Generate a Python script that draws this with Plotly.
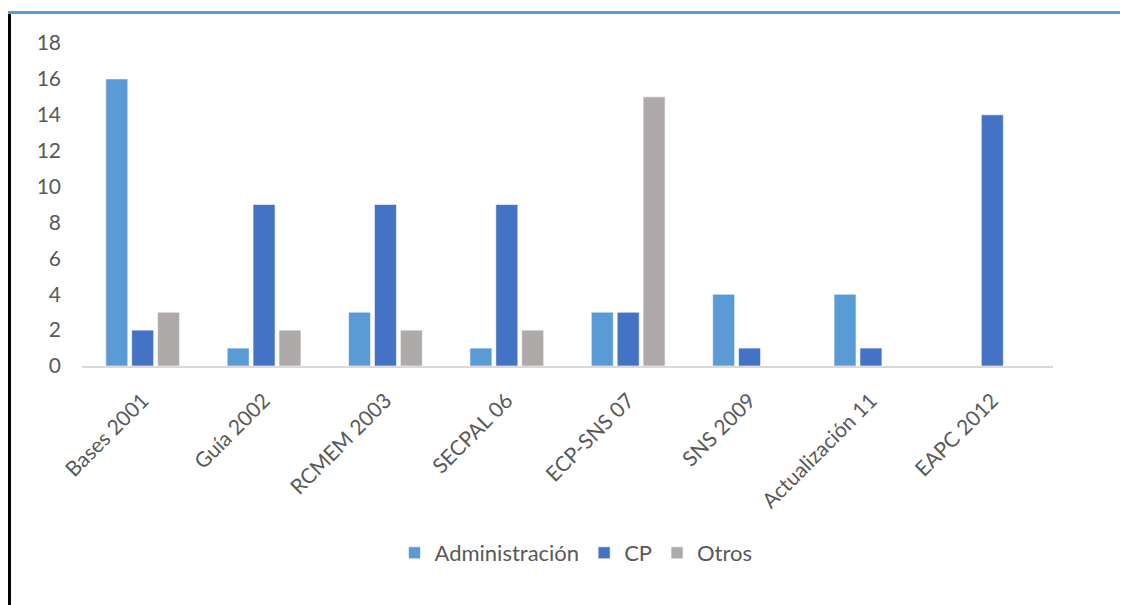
import plotly.graph_objects as go

categories = ["Bases 2001", "Guía 2002", "RCMEM 2003", "SECPAL 06",
              "ECP-SNS 07", "SNS 2009", "Actualización 11", "EAPC 2012"]
administracion = [16, 1, 3, 1, 3, 4, 4, 0]
cp = [2, 9, 9, 9, 3, 1, 1, 14]
otros = [3, 2, 2, 2, 15, 0, 0, 0]

COLORS = {"Administración": "#5B9BD5", "CP": "#4472C4", "Otros": "#AEAAAA"}
TEXT = "#595959"
FONT = "Lato, 'Open Sans', sans-serif"

fig = go.Figure()
for name, vals in [("Administración", administracion), ("CP", cp), ("Otros", otros)]:
    fig.add_trace(go.Bar(
        x=categories, y=vals, name=name,
        marker=dict(color=COLORS[name], line=dict(color="rgba(255,255,255,0.6)", width=1)),
    ))

# page body has an 8px margin, so the figure is 8px smaller and everything is
# laid out in screen pixels minus 8
OFF = 8
FW, FH = 1128 - OFF, 605 - OFF
# plot area on screen: x 82..1053, y 43..366
L, T = 82 - OFF, 43 - OFF
R, B = FW - (1053 - OFF), FH - (366 - OFF)
W, H = FW - L - R, FH - T - B


def px_x(p):
    return (p - OFF - L) / W


def px_y(p):
    return (FH - B - (p - OFF)) / H


fig.update_layout(
    width=FW, height=FH,
    barmode="group", bargap=0.36, bargroupgap=0.15,
    paper_bgcolor="white", plot_bgcolor="white",
    font=dict(family=FONT, color=TEXT, size=21),
    margin=dict(l=L, r=R, t=T, b=B),
    showlegend=True,
    legend=dict(orientation="h", x=px_x(576), xanchor="center", y=px_y(553), yanchor="middle",
                font=dict(size=22, color=TEXT), itemwidth=30, traceorder="normal"),
    xaxis=dict(tickangle=-45, showgrid=False, showline=True, linecolor="#D9D9D9",
               linewidth=2, ticks="", automargin=False, ticklabelstandoff=12,
               tickfont=dict(size=21, color=TEXT)),
    yaxis=dict(range=[0, 18], dtick=2, showgrid=False, zeroline=False, showline=False,
               ticks="", automargin=False, ticklabelstandoff=20,
               tickfont=dict(size=21, color=TEXT)),
    shapes=[
        dict(type="line", xref="paper", yref="paper",
             x0=px_x(8), x1=px_x(1128), y0=px_y(12.5), y1=px_y(12.5),
             line=dict(color="#5B9BD5", width=3)),
        dict(type="line", xref="paper", yref="paper",
             x0=px_x(9.5), x1=px_x(9.5), y0=px_y(14), y1=px_y(605),
             line=dict(color="black", width=3)),
    ],
)

fig.write_html("out.html")
